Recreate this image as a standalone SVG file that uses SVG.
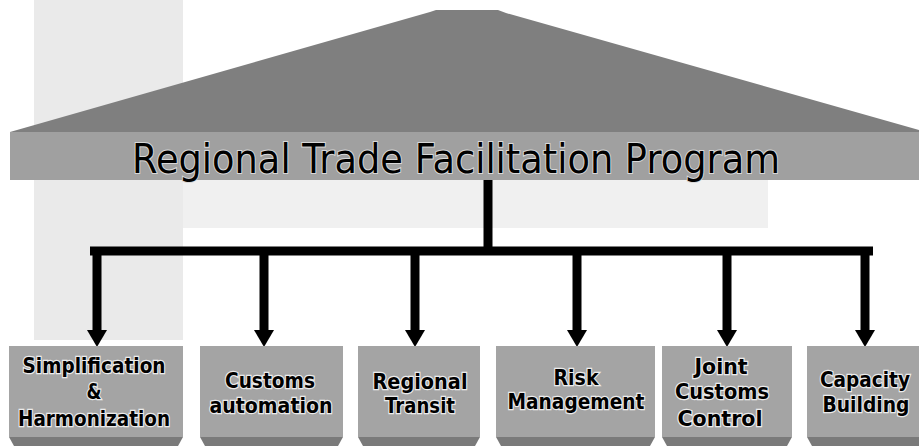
<svg xmlns="http://www.w3.org/2000/svg" width="919" height="446" viewBox="0 0 919 446">
  <defs>
    <style>
      .bg { fill: #eaeaea; }
      .bg2 { fill: #f0f0f0; }
      .roof { fill: #7f7f7f; }
      .bar { fill: #a0a0a0; }
      .box { fill: #a4a4a4; }
      .base { fill: #7a7a7a; }
      .title { font-family: "DejaVu Sans", Verdana, sans-serif; font-size: 40px; fill: #000; stroke: #d8d8d8; stroke-width: 2; paint-order: stroke; }
      .lbl { font-family: "DejaVu Sans", Verdana, sans-serif; font-weight: bold; font-size: 20.5px; fill: #000; stroke: #ececec; stroke-width: 2.4; paint-order: stroke; text-anchor: middle; }
      .wire { stroke: #000; stroke-width: 9; fill: none; }
      .arrow { stroke: #000; stroke-width: 9; fill: none; marker-end: url(#head); }
    </style>
    <marker id="head" markerUnits="userSpaceOnUse" markerWidth="18" markerHeight="20" viewBox="0 0 18 20" refX="0" refY="10" orient="auto">
      <path d="M0,0 L17,10 L0,20 z" fill="#000"/>
    </marker>
  </defs>

  <!-- background textures -->
  <rect class="bg" x="34" y="0" width="149" height="340"/>
  <rect class="bg2" x="183" y="180" width="585" height="48"/>

  <g id="program">
    <polygon class="roof" points="10,132 430,12 436,10 498,10 506,13 919,130 919,133 10,133"/>
    <rect class="bar" x="10" y="132" width="909" height="48"/>
    <text class="title" x="456" y="173" text-anchor="middle" textLength="648" lengthAdjust="spacingAndGlyphs">Regional Trade Facilitation Program</text>
  </g>

  <g id="connectors">
    <line class="wire" x1="488" y1="180" x2="488" y2="251"/>
    <line class="wire" x1="90" y1="251" x2="873" y2="251"/>
    <line class="arrow" x1="97" y1="247" x2="97" y2="330"/>
    <line class="arrow" x1="264" y1="247" x2="264" y2="330"/>
    <line class="arrow" x1="415" y1="247" x2="415" y2="330"/>
    <line class="arrow" x1="577" y1="247" x2="577" y2="330"/>
    <line class="arrow" x1="727" y1="247" x2="727" y2="330"/>
    <line class="arrow" x1="865" y1="247" x2="865" y2="330"/>
  </g>

  <g id="simplification">
    <rect class="box" x="9" y="346" width="174" height="91"/>
    <polygon class="base" points="9,437 183,437 178,446 14,446"/>
    <text class="lbl" x="94" y="373" textLength="143" lengthAdjust="spacingAndGlyphs">Simplification</text>
    <text class="lbl" x="94" y="399" textLength="15" lengthAdjust="spacingAndGlyphs">&amp;</text>
    <text class="lbl" x="94" y="426" textLength="152" lengthAdjust="spacingAndGlyphs">Harmonization</text>
  </g>

  <g id="customs-automation">
    <rect class="box" x="200" y="346" width="143" height="91"/>
    <polygon class="base" points="200,437 343,437 338,446 205,446"/>
    <text class="lbl" x="270" y="388" textLength="90" lengthAdjust="spacingAndGlyphs">Customs</text>
    <text class="lbl" x="271" y="413" textLength="123" lengthAdjust="spacingAndGlyphs">automation</text>
  </g>

  <g id="regional-transit">
    <rect class="box" x="358" y="346" width="122" height="91"/>
    <polygon class="base" points="358,437 480,437 475,446 363,446"/>
    <text class="lbl" x="420" y="389" textLength="95" lengthAdjust="spacingAndGlyphs">Regional</text>
    <text class="lbl" x="420" y="413" textLength="70" lengthAdjust="spacingAndGlyphs">Transit</text>
  </g>

  <g id="risk-management">
    <rect class="box" x="496" y="346" width="159" height="91"/>
    <polygon class="base" points="496,437 655,437 650,446 501,446"/>
    <text class="lbl" x="576" y="385" textLength="45" lengthAdjust="spacingAndGlyphs">Risk</text>
    <text class="lbl" x="576" y="409" textLength="137" lengthAdjust="spacingAndGlyphs">Management</text>
  </g>

  <g id="joint-customs-control">
    <rect class="box" x="662" y="346" width="130" height="91"/>
    <polygon class="base" points="662,437 792,437 787,446 667,446"/>
    <text class="lbl" x="721" y="374">Joint</text>
    <text class="lbl" x="722" y="399" textLength="94" lengthAdjust="spacingAndGlyphs">Customs</text>
    <text class="lbl" x="720" y="426" textLength="85" lengthAdjust="spacingAndGlyphs">Control</text>
  </g>

  <g id="capacity-building">
    <rect class="box" x="807" y="346" width="112" height="91"/>
    <polygon class="base" points="807,437 919,437 919,446 812,446"/>
    <text class="lbl" x="865" y="387" textLength="90" lengthAdjust="spacingAndGlyphs">Capacity</text>
    <text class="lbl" x="866" y="412" textLength="87" lengthAdjust="spacingAndGlyphs">Building</text>
  </g>
</svg>
